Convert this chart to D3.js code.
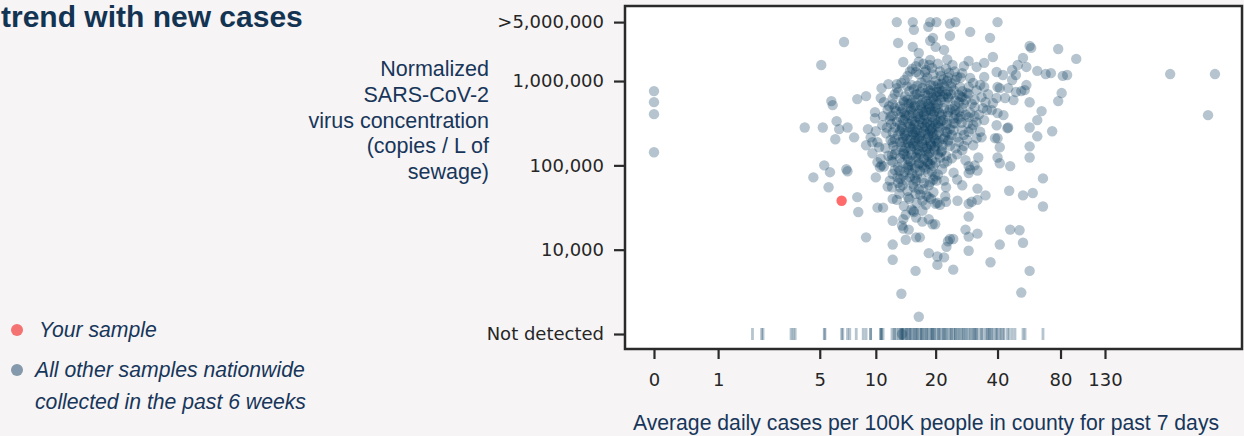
<!DOCTYPE html>
<html>
<head>
<meta charset="utf-8">
<script src="https://cdn.jsdelivr.net/npm/d3@7"></script>
<style>
  html, body { margin: 0; padding: 0; background: #f6f4f5; }
  svg { display: block; }
</style>
</head>
<body>
<svg id="chart"></svg>
<script>
'use strict';

// x: average daily cases per 100K, y: copies / L (0 = not detected, >5M drawn at cap)
var yourSample = [6.6, 38e3];

var otherSamples = [
  [0, 760e3], [0, 562e3], [0, 405e3], [0, 143e3],
  [264, 1.21e6], [429, 1.21e6], [398, 394e3],
  [6.8, 2.9e6], [5.1, 1.55e6], [5.8, 578e3], [5.9, 518e3], [6.2, 334e3], [6.4, 269e3],
  [4.1, 281e3], [5.2, 281e3], [7.1, 281e3], [6.1, 204e3], [7.7, 215e3], [5.3, 100e3],
  [5.7, 83e3], [7.1, 85e3], [4.6, 72e3], [5.6, 55e3], [8, 42e3], [8.1, 28e3], [8, 611e3],
  [12.8, 5e6], [15.4, 5e6], [15.6, 4.05e6], [18.8, 5e6], [18.4, 4.4e6], [20.2, 5e6],
  [13, 2.83e6], [15.4, 2.54e6], [16.5, 2.15e6], [18.8, 3e6], [19.4, 3.25e6], [20, 2.54e6],
  [13.8, 1.68e6], [16, 1.5e6], [16, 1.28e6], [17.7, 1.28e6], [18.8, 1.78e6], [19.2, 1.43e6],
  [11.6, 920e3], [12.8, 825e3], [12.8, 920e3], [14.4, 870e3], [10.7, 825e3], [8.9, 663e3],
  [10.6, 630e3], [11.7, 504e3], [9.9, 428e3], [10.9, 384e3], [11.9, 384e3], [9.9, 362e3],
  [9.1, 269e3], [10, 254e3], [9.4, 215e3], [8.9, 173e3], [10.2, 188e3], [10.4, 164e3],
  [9.6, 188e3], [9.6, 139e3], [12.2, 188e3], [12.1, 132e3], [7, 90e3], [10.2, 109e3],
  [10.7, 100e3], [11, 97e3], [13, 95e3], [14.6, 100e3], [16.4, 103e3], [18.8, 103e3],
  [23.5, 4.8e6], [25, 5e6], [40, 5e6], [23.5, 3.43e6], [29.5, 3.83e6], [36.8, 3.25e6],
  [22, 2.34e6], [57, 2.6e6], [58, 2.47e6], [78, 2.4e6], [95, 1.83e6], [38, 1.93e6],
  [53, 1.88e6], [29, 1.73e6], [34.5, 1.64e6], [55, 1.47e6], [50, 1.55e6], [62, 1.32e6],
  [68, 1.21e6], [72, 1.24e6], [82, 1.15e6], [86, 1.18e6], [81, 720e3], [78, 578e3],
  [65, 440e3], [62, 344e3], [57, 281e3], [73, 254e3], [62, 221e3], [57, 168e3], [57, 124e3],
  [45, 281e3], [55, 896e3], [54, 780e3], [49, 1.18e6], [47, 1.03e6], [52, 760e3], [49, 740e3],
  [41, 825e3], [45, 825e3], [43.5, 630e3], [47.7, 594e3], [39.6, 630e3], [38, 548e3],
  [37.5, 452e3], [40, 416e3], [42.7, 394e3], [35.6, 452e3], [34, 477e3], [39.6, 299e3],
  [44.6, 276e3], [40, 210e3], [38.9, 210e3], [41, 164e3], [40, 124e3], [41, 106e3], [46, 98e3],
  [31.7, 210e3], [33.5, 215e3], [30.5, 173e3], [32.3, 124e3], [31, 100e3], [29, 98e3],
  [28, 115e3], [27, 151e3], [25, 159e3], [24, 121e3], [22, 106e3],
  [29.5, 1.09e6], [31.7, 1.47e6], [34.5, 1.12e6], [39.6, 1.28e6], [42.5, 1.18e6], [47, 1.35e6],
  [40, 850e3], [34.5, 850e3], [31.7, 780e3], [29, 850e3], [27, 1.24e6], [25, 1.03e6],
  [33.5, 645e3], [31, 490e3], [34.5, 344e3], [31.7, 325e3], [29, 373e3], [28.7, 316e3],
  [27, 261e3], [25.6, 215e3], [25, 316e3], [25, 452e3], [23, 428e3], [22.7, 316e3],
  [23, 645e3], [27, 645e3], [26.3, 850e3],
  [57, 560e3], [66, 70e3], [59, 47e3], [53, 44e3], [45.5, 50e3],
  [66, 32.5e3], [53, 12.1e3], [51, 17e3], [46, 17.3e3], [41, 11.5e3], [37, 7.1e3], [57, 5.6e3],
  [52, 3.1e3], [32, 15.5e3], [29, 14.3e3], [28, 17.3e3], [29, 9.7e3], [29, 24.7e3], [29, 35e3],
  [30, 37e3], [32, 39e3], [32, 53e3], [35, 44e3], [25.6, 38e3], [22.5, 37e3], [21, 34e3],
  [20, 35e3], [17.9, 34e3], [17.2, 29e3], [19.3, 20e3], [18.5, 23e3], [17.2, 21.5e3],
  [23.5, 13.4e3], [23, 12.6e3], [22.6, 10.8e3], [24.4, 13.4e3], [22, 8.1e3], [20.4, 8.3e3],
  [18.5, 9.1e3], [20.4, 6.6e3], [24.4, 5.8e3], [16.7, 14e3], [16, 14e3], [15.9, 5.6e3],
  [14.7, 17.3e3], [13.8, 17.8e3], [14.2, 13.1e3], [13.8, 23e3], [13.6, 19.3e3], [12.2, 22e3],
  [12.2, 11.5e3], [12.2, 7.6e3], [13.5, 3e3], [16.5, 1.6e3], [8.9, 14e3],
  [10.2, 31.5e3], [10.9, 31.5e3], [11.5, 56e3], [12.1, 55e3], [12.2, 40e3], [12.8, 39e3],
  [14.6, 42e3], [15.2, 30e3], [15.5, 29e3], [16, 24e3], [18.5, 42e3], [18, 44e3], [20.4, 36e3],
  [22.3, 43e3], [13.3, 55e3], [15.9, 46e3], [10, 72e3], [11.8, 66e3], [13.3, 69e3], [12.2, 79e3],
  [10.5, 95e3], [14.6, 95e3], [15.8, 93e3], [17.2, 100e3], [18.4, 106e3], [14.9, 72e3],
  [16, 66e3], [18.8, 63e3], [20.2, 66e3], [17.2, 38e3], [32, 87e3], [29.5, 89e3], [29, 81e3],
  [19.9, 74e3], [22, 66e3], [19.9, 20e3],
  // dense core
  [14, 1.03e6], [15.2, 900e3], [17, 960e3], [18.4, 800e3], [20, 1e6], [22, 860e3], [24, 940e3],
  [12.5, 700e3], [14.1, 660e3], [15.8, 690e3], [17.7, 720e3], [19.4, 640e3], [21, 700e3],
  [23, 760e3], [25.9, 690e3], [28.5, 720e3],
  [12.2, 530e3], [13.3, 500e3], [14.7, 540e3], [15.8, 510e3], [17.2, 550e3], [18.8, 490e3],
  [20.5, 530e3], [22.2, 560e3], [24.9, 510e3], [27.5, 540e3],
  [12.7, 440e3], [14, 420e3], [15.1, 450e3], [16.4, 410e3], [17.9, 440e3], [19.7, 430e3],
  [21.5, 400e3], [23.5, 460e3],
  [11.8, 350e3], [12.8, 330e3], [14.1, 360e3], [15.3, 340e3], [16.7, 355e3], [18.2, 330e3],
  [19.9, 350e3], [21.8, 345e3], [25.9, 360e3],
  [12.5, 280e3], [13.6, 270e3], [14.9, 285e3], [16.2, 265e3], [17.7, 290e3], [19.2, 275e3],
  [21, 280e3], [23.5, 270e3],
  [13, 230e3], [14.1, 225e3], [15.5, 235e3], [16.7, 220e3], [18.4, 232e3], [20.2, 228e3],
  [22.2, 218e3],
  [13.3, 190e3], [14.6, 185e3], [15.8, 195e3], [17.2, 182e3], [18.8, 190e3], [20.4, 186e3],
  [23, 192e3],
  [12.7, 152e3], [13.9, 148e3], [15.1, 155e3], [16.5, 150e3], [17.9, 146e3], [19.7, 154e3],
  [21.5, 150e3],
  [13.3, 122e3], [14.6, 118e3], [16, 125e3], [17.5, 120e3], [19.2, 116e3], [21, 124e3],
  [14, 84e3], [15.3, 80e3], [16.7, 86e3], [18.4, 82e3],
  [14.5, 600e3], [16.3, 620e3], [18, 580e3], [19.5, 600e3], [15, 470e3], [16.8, 480e3],
  [18.6, 460e3], [20.5, 470e3], [14.2, 390e3], [16, 380e3], [17.5, 395e3], [19.2, 375e3],
  [14.8, 310e3], [16.5, 300e3], [18.1, 315e3], [20, 305e3], [15.2, 250e3], [17, 245e3],
  [18.8, 255e3], [14.4, 205e3], [16.1, 210e3], [17.9, 200e3], [19.7, 208e3], [15.5, 170e3],
  [17.3, 165e3], [19, 172e3], [14, 135e3], [16.2, 138e3], [18.2, 133e3],
  [19.5, 880e3], [20.8, 820e3], [21.5, 760e3], [19, 720e3], [22.5, 700e3], [20.2, 660e3],
  [14.5, 1.15e6], [16.6, 1.2e6], [18.2, 1.1e6], [21.2, 1.15e6], [23.3, 1.25e6], [25.5, 1.12e6],
  [22.5, 1.4e6], [20.5, 1.6e6], [24.2, 1.55e6], [17.4, 1.6e6],
  [26, 560e3], [28, 600e3], [30, 540e3], [27, 480e3], [29.5, 420e3], [26.5, 380e3],
  [32.5, 400e3], [30.5, 300e3], [27.5, 230e3], [29, 250e3], [24.5, 260e3], [26, 190e3],
  [23.5, 170e3], [25.5, 135e3],
  [11, 560e3], [11.5, 460e3], [10.8, 300e3], [11.3, 240e3], [11.9, 200e3], [11.2, 160e3],
  [11.6, 130e3], [12, 115e3], [10.6, 120e3], [11.4, 280e3],
  [12.5, 88e3], [13.8, 76e3], [15.5, 60e3], [17, 70e3], [18.5, 58e3], [20.5, 78e3],
  [21.5, 90e3], [13, 62e3], [14.5, 50e3], [16.5, 52e3], [19.5, 48e3], [22.5, 55e3],
  [24.5, 82e3], [25.5, 68e3], [27, 58e3],
  [13.5, 950e3], [16.2, 880e3], [17.8, 1.02e6], [21.5, 930e3], [23.8, 860e3],
  [13, 740e3], [14.8, 760e3], [16.8, 740e3], [18.8, 770e3], [20.6, 745e3], [24.5, 780e3], [27, 760e3],
  [12.2, 620e3], [13.8, 590e3], [15.5, 600e3], [17.3, 610e3], [19, 585e3], [21.2, 600e3],
  [23.2, 620e3], [25, 590e3],
  [12.5, 480e3], [13.7, 470e3], [15.5, 490e3], [17, 465e3], [18.5, 500e3], [20, 480e3],
  [22, 475e3], [24.2, 470e3],
  [12.2, 390e3], [13.3, 375e3], [14.8, 395e3], [16.4, 370e3], [18, 385e3], [19.5, 400e3],
  [21.2, 380e3], [23, 385e3], [25, 400e3],
  [12, 310e3], [13.3, 300e3], [14.5, 320e3], [15.7, 305e3], [17.2, 318e3], [18.8, 300e3],
  [20.5, 320e3], [22.5, 300e3], [24.5, 315e3],
  [12.2, 245e3], [13.3, 255e3], [14.5, 245e3], [15.8, 250e3], [17.5, 258e3], [19.2, 245e3],
  [20.8, 250e3], [22.8, 245e3],
  [12.5, 205e3], [13.8, 210e3], [15, 200e3], [16.5, 205e3], [18.3, 212e3], [20, 198e3], [21.8, 205e3],
  [12.3, 170e3], [13.5, 165e3], [14.8, 168e3], [16.3, 172e3], [18, 165e3], [19.8, 168e3], [21.6, 172e3],
  [12.5, 136e3], [13.8, 138e3], [15.2, 132e3], [16.8, 136e3], [18.6, 140e3], [20.5, 135e3],
  [12.2, 110e3], [13.6, 108e3], [15, 112e3], [16.6, 106e3], [18.2, 110e3], [20, 108e3], [22.8, 112e3],
  [13.2, 87e3], [14.7, 88e3], [16.2, 78e3], [17.8, 90e3], [19.2, 84e3], [12.9, 72e3], [14.3, 66e3],
  [15.8, 70e3], [17.5, 62e3], [19.5, 68e3], [13.7, 58e3], [15.6, 55e3], [17.4, 52e3],
  [13.2, 46e3], [14.8, 40e3], [16.1, 36e3], [13.9, 33e3], [15.6, 28e3], [14.2, 26e3],
  [16.8, 45e3], [19, 40e3],
  [15.3, 1.4e6], [17.9, 1.35e6], [19.5, 1.2e6], [21.9, 1.05e6], [24.8, 1.3e6], [26.5, 1.1e6],
  [16.5, 1.7e6], [22.8, 1.8e6], [27.5, 1.5e6],
  [28, 400e3], [31, 380e3], [26.8, 320e3], [30, 270e3], [33, 250e3], [28.5, 200e3],
  [27.5, 170e3], [24, 230e3], [26.5, 650e3], [31, 600e3], [29, 700e3], [35, 560e3],
  [33, 900e3], [36, 700e3], [30.5, 950e3],
  // darkest part of the cloud
  [13.9, 560e3], [15.1, 545e3], [16.9, 520e3], [18.4, 535e3], [20.1, 560e3],
  [13.5, 430e3], [15.4, 415e3], [17.3, 425e3], [19, 440e3], [20.8, 420e3],
  [13.8, 345e3], [15.8, 330e3], [17.6, 350e3], [19.4, 325e3], [21.2, 335e3],
  [13.6, 285e3], [15.3, 270e3], [17.1, 280e3], [18.9, 268e3], [20.6, 290e3],
  [14, 240e3], [15.9, 228e3], [17.8, 238e3], [19.5, 232e3],
  [13.7, 190e3], [15.4, 182e3], [17.1, 195e3], [18.9, 180e3], [20.8, 192e3],
  [14.2, 160e3], [16.1, 155e3], [18.1, 158e3], [19.9, 150e3],
  [14.4, 128e3], [16.4, 122e3], [18.4, 126e3], [15.2, 100e3], [17.5, 95e3], [19.5, 98e3],
  [15.6, 800e3], [17.2, 830e3], [18.9, 900e3], [20.6, 920e3], [22.8, 1e6],
  [16.1, 700e3], [18.2, 680e3], [20.2, 740e3], [21.8, 650e3], [23.8, 700e3],
  [14.9, 1.3e6], [18.6, 1.55e6], [21, 1.3e6], [23, 1.1e6],
  [24.5, 360e3], [26.2, 430e3], [22.4, 250e3], [23.2, 200e3], [21.3, 145e3], [22.5, 130e3],
  [13.6, 0]
];

// samples with nothing detected, drawn as a rug
var notDetectedCases = [
  1.9, 2.2, 2.25, 3.4, 3.5, 3.6, 5.3, 5.35, 6.6, 6.7, 7.1, 7.3, 7.9, 8.6, 8.9, 9.4,
  10.6, 10.9, 12.1, 12.4, 12.8, 13.3, 13.8, 14.1, 14.4, 14.9, 15.4, 16, 16.7, 17.2, 17.7,
  18.4, 19.2, 19.4, 20.2, 21, 21.8, 22.6, 23, 24, 24.9, 25.5, 26.3, 27.2, 28.4, 29.5, 30.5,
  31.1, 31.7, 34, 35.6, 36, 36.8, 38, 39.6, 41.1, 42.5, 44.6, 45.5, 47, 48.5, 53, 54.2, 66,
  9.4, 10.6, 10.7, 13.5, 13.6, 13.7, 14.6, 15.1, 15.8, 16.3, 17, 18, 18.9, 19.8, 20.6, 22,
  23.5, 25, 26.8, 28, 30, 32, 33, 35, 37.5, 40, 43,
  12.5, 13.1, 14.3, 14.9, 15.6, 16.2, 16.9, 17.5, 18.2, 19, 19.6, 20.8, 21.5, 22.3, 23.8,
  24.5, 25.9, 27.5, 29, 31, 33.5, 36.5, 39, 41.5
];

var xTicks = [0, 1, 5, 10, 20, 40, 80, 130];
var yTicks = [1e3, 1e4, 1e5, 1e6, 5e6];
var yTickLabels = ['Not detected', '10,000', '100,000', '1,000,000', '>5,000,000'];

var legendItems = [
  { label: ['Your sample'], color: '#f47272' },
  { label: ['All other samples nationwide', 'collected in the past 6 weeks'], color: '#8499ab' }
];

var width = 1244;
var height = 436;
var plot = { left: 625, right: 1242, top: 6, bottom: 349 };
var navy = '#0b3c5d';
var textNavy = '#17365a';
var sans = 'Liberation Sans, Arial, sans-serif';

var svg = d3.select('#chart')
  .attr('width', width)
  .attr('height', height);

var x = d3.scaleSymlog().constant(1)
  .domain([-0.368, 575])
  .range([plot.left, plot.right]);

var y = d3.scaleLog()
  .domain([664, 7.76e6])
  .range([plot.bottom, plot.top]);

var yValue = function (c) {
  if (c === 0) { return 1e3; }
  return Math.min(c, 5e6);
};

// title, tucked against the top-left corner like the source
svg.append('text')
  .attr('x', 1)
  .attr('y', 27)
  .attr('font-family', sans)
  .attr('font-size', '30px')
  .attr('font-weight', 'bold')
  .attr('fill', '#133352')
  .text('trend with new cases');

// y title
var yTitle = ['Normalized', 'SARS-CoV-2', 'virus concentration', '(copies / L of', 'sewage)'];
svg.append('g')
  .selectAll('text')
  .data(yTitle)
  .enter()
  .append('text')
  .attr('x', 489)
  .attr('y', function (d, i) { return 76 + i * 25.8; })
  .attr('text-anchor', 'end')
  .attr('font-family', sans)
  .attr('font-size', '21.5px')
  .attr('fill', textNavy)
  .text(function (d) { return d; });

// plot area
svg.append('rect')
  .attr('x', plot.left)
  .attr('y', plot.top)
  .attr('width', plot.right - plot.left)
  .attr('height', plot.bottom - plot.top)
  .attr('fill', '#fff');

// rug for not detected
svg.append('g')
  .selectAll('rect')
  .data(notDetectedCases)
  .enter()
  .append('rect')
  .attr('x', function (d) { return x(d) - 1.4; })
  .attr('y', y(1e3) - 6)
  .attr('width', 2.8)
  .attr('height', 12)
  .attr('fill', navy)
  .attr('fill-opacity', 0.3);

svg.append('g')
  .selectAll('circle')
  .data(otherSamples)
  .enter()
  .append('circle')
  .attr('cx', function (d) { return x(d[0]); })
  .attr('cy', function (d) { return y(yValue(d[1])); })
  .attr('r', 5.2)
  .attr('fill', navy)
  .attr('fill-opacity', 0.3);

svg.append('circle')
  .attr('cx', x(yourSample[0]))
  .attr('cy', y(yValue(yourSample[1])))
  .attr('r', 5.2)
  .attr('fill', '#ff6b6b');

// frame
svg.append('rect')
  .attr('x', plot.left)
  .attr('y', plot.top)
  .attr('width', plot.right - plot.left)
  .attr('height', plot.bottom - plot.top)
  .attr('fill', 'none')
  .attr('stroke', '#2a2a2a')
  .attr('stroke-width', 2.5);

// axes
var xAxis = d3.axisBottom(x)
  .tickValues(xTicks)
  .tickSize(9)
  .tickPadding(14)
  .tickFormat(d3.format('d'));

var yAxis = d3.axisLeft(y)
  .tickValues(yTicks)
  .tickSize(10)
  .tickPadding(10)
  .tickFormat(function (d, i) { return yTickLabels[i]; });

var xAxisEl = svg.append('g')
  .attr('transform', 'translate(0,' + (plot.bottom + 1) + ')')
  .call(xAxis);

var yAxisEl = svg.append('g')
  .attr('transform', 'translate(' + (plot.left - 1) + ',0)')
  .call(yAxis);

[xAxisEl, yAxisEl].forEach(function (el) {
  el.select('.domain').remove();
  el.selectAll('line').attr('stroke', '#2a2a2a').attr('stroke-width', 2.2);
  el.selectAll('text')
    .attr('font-family', 'DejaVu Sans, sans-serif')
    .attr('font-size', '18px')
    .attr('fill', '#262626');
});

// x title
svg.append('text')
  .attr('x', 926)
  .attr('y', 430)
  .attr('text-anchor', 'middle')
  .attr('font-family', sans)
  .attr('font-size', '21.2px')
  .attr('fill', textNavy)
  .text('Average daily cases per 100K people in county for past 7 days');

// legend
var legend = svg.append('g');
var legendY = [330, 370];
legendItems.forEach(function (item, i) {
  legend.append('circle')
    .attr('cx', 17)
    .attr('cy', legendY[i])
    .attr('r', 6)
    .attr('fill', item.color);
  item.label.forEach(function (line, j) {
    legend.append('text')
      .attr('x', i === 0 ? 39 : 35)
      .attr('y', legendY[i] + 7 + j * 32)
      .attr('font-family', sans)
      .attr('font-size', '21.2px')
      .attr('font-style', 'italic')
      .attr('fill', textNavy)
      .text(line);
  });
});
</script>
</body>
</html>
